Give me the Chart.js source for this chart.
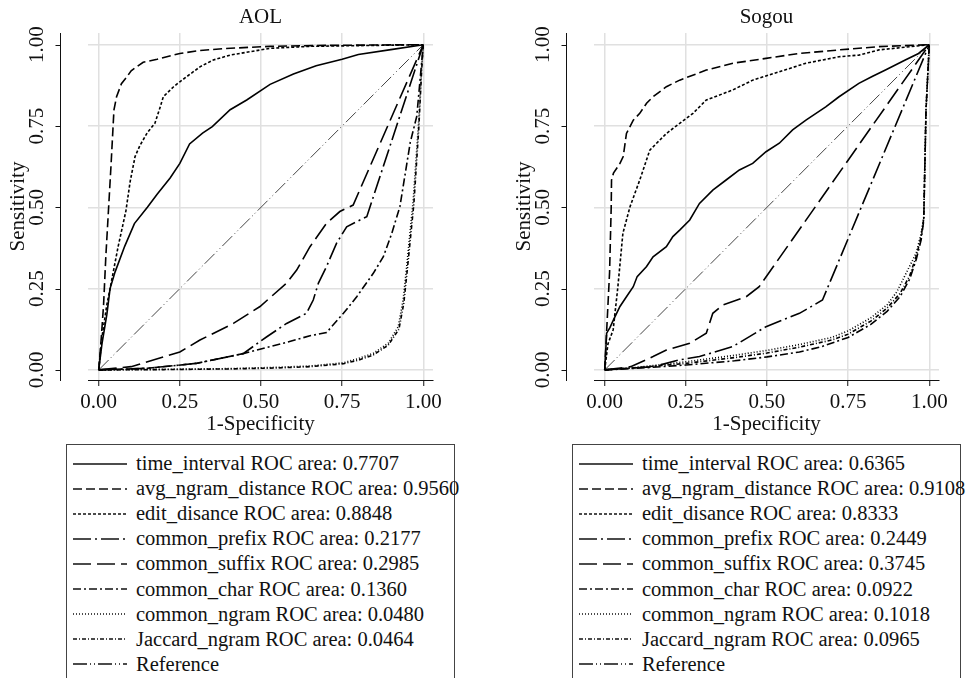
<!DOCTYPE html>
<html>
<head>
<meta charset="utf-8">
<script src="https://cdn.jsdelivr.net/npm/chart.js@4.4.1/dist/chart.umd.min.js"></script>
<style>
  body { margin: 0; width: 968px; height: 678px; overflow: hidden; background: #fff; font-family: 'Liberation Serif', Tinos, 'Times New Roman', serif; }
  canvas { position: absolute; top: 0; }
  .legend { position: absolute; top: 444px; height: 260px; border: 1px solid #444; box-sizing: border-box; padding-top: 6px; font-size: 20.5px; color: #111; }
  .row { height: 25.1px; display: flex; align-items: center; white-space: nowrap; }
  .row svg { margin-left: 6px; margin-right: 9px; flex: none; }
</style>
</head>
<body>
<canvas id="aol" width="484" height="440" style="left:0"></canvas>
<canvas id="sogou" width="462" height="440" style="left:506px"></canvas>
<div id="legAol" class="legend" style="left:66px;width:389px"></div>
<div id="legSogou" class="legend" style="left:572px;width:389px"></div>
<script>
const FONT = "'Liberation Serif', Tinos, 'Times New Roman', serif";
Chart.defaults.font.family = FONT;
Chart.defaults.color = "#111";

const tickVals = [0, 0.25, 0.5, 0.75, 1];
const seriesNames = [
  "time_interval", "avg_ngram_distance", "edit_disance", "common_prefix",
  "common_suffix", "common_char", "common_ngram", "Jaccard_ngram", "Reference",
];
const aolAuc = [0.7707, 0.956, 0.8848, 0.2177, 0.2985, 0.136, 0.048, 0.0464];
const sogouAuc = [0.6365, 0.9108, 0.8333, 0.2449, 0.3745, 0.0922, 0.1018, 0.0965];
// stata-ish line patterns, one per series (same order as seriesNames)
const dashes = [[], [9, 4], [3, 2], [18, 4, 2, 4], [18, 6], [8, 3, 2, 3], [1, 2], [4, 2, 1, 2], [14, 3, 1, 3, 1, 3]];

// AOL curves, [1-specificity, sensitivity]
const aolTime = [[0,0],[0.01,0.08],[0.025,0.17],[0.035,0.25],[0.05,0.3],[0.08,0.38],[0.11,0.45],[0.15,0.5],[0.18,0.54],[0.22,0.59],[0.25,0.635],[0.28,0.695],[0.32,0.728],[0.35,0.748],[0.405,0.8],[0.456,0.83],[0.528,0.878],[0.6,0.91],[0.67,0.935],[0.75,0.955],[0.8,0.97],[0.9,0.985],[1,1]];
const aolAvg = [[0,0],[0.008,0.1],[0.015,0.2],[0.022,0.35],[0.03,0.49],[0.038,0.63],[0.047,0.8],[0.055,0.84],[0.07,0.88],[0.086,0.9],[0.1,0.92],[0.137,0.946],[0.18,0.955],[0.25,0.973],[0.31,0.982],[0.384,0.988],[0.528,0.995],[0.7,0.998],[1,1]];
const aolEdit = [[0,0],[0.01,0.1],[0.025,0.2],[0.035,0.25],[0.06,0.38],[0.084,0.49],[0.097,0.58],[0.112,0.656],[0.127,0.69],[0.15,0.73],[0.173,0.758],[0.19,0.81],[0.199,0.84],[0.23,0.87],[0.25,0.886],[0.312,0.932],[0.353,0.953],[0.405,0.968],[0.528,0.989],[0.65,0.995],[1,1]];
const aolPrefix = [[0,0],[0.15,0.005],[0.3,0.02],[0.445,0.05],[0.518,0.102],[0.579,0.143],[0.64,0.174],[0.661,0.215],[0.677,0.267],[0.702,0.318],[0.733,0.39],[0.764,0.44],[0.805,0.461],[0.826,0.471],[1,1]];
const aolSuffix = [[0,0],[0.1,0.01],[0.2,0.04],[0.25,0.055],[0.312,0.092],[0.415,0.143],[0.497,0.195],[0.579,0.267],[0.61,0.307],[0.651,0.379],[0.702,0.451],[0.743,0.487],[0.784,0.507],[1,1]];
const aolChar = [[0,0],[0.15,0.005],[0.3,0.02],[0.445,0.05],[0.569,0.082],[0.651,0.105],[0.702,0.115],[0.754,0.174],[0.795,0.225],[0.846,0.297],[0.877,0.348],[0.903,0.42],[0.928,0.502],[0.96,0.7],[0.98,0.78],[1,1]];
const aolNgram = [[0,0],[0.2,0.002],[0.4,0.004],[0.55,0.008],[0.65,0.012],[0.754,0.022],[0.8,0.035],[0.846,0.051],[0.892,0.082],[0.923,0.133],[0.938,0.215],[0.949,0.318],[0.959,0.42],[0.969,0.52],[0.985,0.75],[0.995,0.93],[1,1]];
const aolJaccard = [[0,0],[0.2,0.001],[0.4,0.003],[0.55,0.006],[0.65,0.01],[0.754,0.019],[0.8,0.03],[0.846,0.046],[0.892,0.076],[0.925,0.125],[0.94,0.205],[0.951,0.31],[0.961,0.41],[0.971,0.51],[0.986,0.74],[0.995,0.92],[1,1]];

// Sogou curves
const sogouTime = [[0,0],[0.006,0.113],[0.016,0.13],[0.027,0.154],[0.047,0.195],[0.067,0.225],[0.088,0.256],[0.1,0.287],[0.129,0.318],[0.149,0.348],[0.19,0.379],[0.21,0.41],[0.231,0.43],[0.262,0.461],[0.292,0.512],[0.333,0.553],[0.374,0.584],[0.415,0.615],[0.456,0.635],[0.497,0.671],[0.538,0.697],[0.579,0.738],[0.62,0.768],[0.681,0.809],[0.722,0.84],[0.783,0.881],[0.824,0.902],[0.865,0.922],[0.926,0.953],[0.967,0.973],[1,1]];
const sogouAvg = [[0,0],[0.005,0.1],[0.015,0.3],[0.02,0.5],[0.021,0.584],[0.027,0.605],[0.047,0.635],[0.057,0.656],[0.067,0.727],[0.088,0.768],[0.108,0.789],[0.129,0.82],[0.149,0.84],[0.19,0.871],[0.231,0.891],[0.313,0.922],[0.395,0.943],[0.497,0.958],[0.599,0.973],[0.722,0.984],[0.845,0.994],[1,1]];
const sogouEdit = [[0,0],[0.01,0.08],[0.026,0.123],[0.04,0.25],[0.056,0.42],[0.078,0.502],[0.108,0.584],[0.139,0.676],[0.17,0.707],[0.19,0.727],[0.231,0.758],[0.272,0.789],[0.313,0.83],[0.395,0.861],[0.456,0.891],[0.538,0.917],[0.62,0.943],[0.722,0.963],[0.783,0.968],[0.845,0.984],[1,1]];
const sogouPrefix = [[0,0],[0.15,0.01],[0.231,0.031],[0.292,0.041],[0.395,0.072],[0.497,0.133],[0.6,0.174],[0.671,0.215],[1,1]];
const sogouSuffix = [[0,0],[0.08,0.01],[0.149,0.041],[0.19,0.061],[0.262,0.082],[0.313,0.113],[0.333,0.174],[0.364,0.2],[0.436,0.225],[0.476,0.256],[1,1]];
const sogouChar = [[0,0],[0.1,0.005],[0.25,0.015],[0.4,0.028],[0.5,0.04],[0.6,0.055],[0.67,0.072],[0.75,0.1],[0.82,0.14],[0.87,0.18],[0.91,0.225],[0.94,0.28],[0.96,0.34],[0.975,0.4],[0.983,0.46],[0.99,0.8],[1,1]];
const sogouNgram = [[0,0],[0.1,0.008],[0.25,0.025],[0.4,0.045],[0.5,0.06],[0.6,0.078],[0.7,0.1],[0.75,0.12],[0.82,0.16],[0.87,0.2],[0.9,0.24],[0.93,0.3],[0.96,0.36],[0.975,0.42],[0.983,0.47],[0.99,0.8],[1,1]];
const sogouJaccard = [[0,0],[0.1,0.007],[0.25,0.02],[0.4,0.038],[0.5,0.052],[0.6,0.07],[0.7,0.092],[0.75,0.11],[0.82,0.15],[0.87,0.19],[0.91,0.235],[0.94,0.29],[0.96,0.35],[0.975,0.41],[0.983,0.465],[0.99,0.8],[1,1]];

const refLine = [[0,0],[1,1]];

// Stata puts the y axis a bit away from the plot region, draw it by hand
const offsetYAxis = {
  id: "offsetYAxis",
  afterDraw(chart) {
    const { ctx, chartArea, scales } = chart;
    const x = chartArea.left - 28 + 0.5;
    ctx.save();
    ctx.strokeStyle = "#111";
    ctx.lineWidth = 1;
    ctx.beginPath();
    ctx.moveTo(x, chartArea.top);
    ctx.lineTo(x, chartArea.bottom + 1);
    scales.y.ticks.forEach((t) => {
      const y = Math.round(scales.y.getPixelForValue(t.value)) + 0.5;
      ctx.moveTo(x - 5, y);
      ctx.lineTo(x, y);
    });
    ctx.stroke();
    ctx.restore();
  },
};

function makeChart(id, title, curves, padRight) {
  const datasets = curves.map((pts, i) => ({
    label: seriesNames[i],
    data: pts.map((p) => ({ x: p[0], y: p[1] })),
    showLine: true,
    pointRadius: 0,
    borderColor: i === 8 ? "#444" : "#000",
    borderWidth: i === 8 ? 1 : 1.6,
    borderDash: dashes[i],
    tension: 0,
    fill: false,
  }));
  const tickFont = { size: 21, family: FONT };
  return new Chart(document.getElementById(id), {
    type: "scatter",
    data: { datasets },
    options: {
      responsive: false,
      animation: false,
      devicePixelRatio: 1,
      layout: { padding: { top: 0, left: 0, bottom: 0, right: padRight } },
      scales: {
        x: {
          type: "linear",
          min: -0.033,
          max: 1.03,
          afterBuildTicks: (s) => { s.ticks = tickVals.map((v) => ({ value: v })); },
          afterFit: (s) => { s.height = 60; s.paddingLeft = 0; s.paddingRight = 0; },
          grid: { color: "#e0e0e0", lineWidth: 1.5, tickLength: 6, tickColor: "#111", tickWidth: 1 },
          border: { color: "#111", width: 1 },
          ticks: { callback: (v) => v.toFixed(2), font: tickFont, padding: 4, maxRotation: 0, autoSkip: false },
          title: { display: true, text: "1-Specificity", font: tickFont, padding: { top: 3, bottom: 3 } },
        },
        y: {
          type: "linear",
          min: -0.031,
          max: 1.036,
          afterBuildTicks: (s) => { s.ticks = tickVals.map((v) => ({ value: v })); },
          afterFit: (s) => { s.width = 88; s.paddingTop = 0; s.paddingBottom = 0; },
          grid: { color: "#e0e0e0", lineWidth: 1.5, drawTicks: false },
          border: { display: false },
          ticks: { callback: (v) => v.toFixed(2), font: tickFont, minRotation: 90, maxRotation: 90, crossAlign: "center", padding: 32, autoSkip: false },
          title: { display: true, text: "Sensitivity", font: tickFont, padding: { top: 6, bottom: 6 } },
        },
      },
      plugins: {
        legend: { display: false },
        tooltip: { enabled: false },
        title: {
          display: true,
          text: title,
          fullSize: false,
          color: "#111",
          font: { size: 21, weight: "normal", family: FONT },
          padding: { top: 5, bottom: 2.8 },
        },
      },
    },
    plugins: [offsetYAxis],
  });
}

function buildLegend(id, auc) {
  const box = document.getElementById(id);
  seriesNames.forEach((name, i) => {
    const row = document.createElement("div");
    row.className = "row";
    const text = i < auc.length ? `${name} ROC area: ${auc[i].toFixed(4)}` : name;
    const dash = dashes[i].length ? dashes[i].join(" ") : "none";
    row.innerHTML =
      `<svg width="54" height="10"><line x1="0" y1="5" x2="54" y2="5" stroke="#111" stroke-width="1.5" stroke-dasharray="${dash}"/></svg>` +
      `<span>${text}</span>`;
    box.appendChild(row);
  });
}

buildLegend("legAol", aolAuc);
buildLegend("legSogou", sogouAuc);
makeChart("aol", "AOL", [aolTime, aolAvg, aolEdit, aolPrefix, aolSuffix, aolChar, aolNgram, aolJaccard, refLine], 51);
makeChart("sogou", "Sogou", [sogouTime, sogouAvg, sogouEdit, sogouPrefix, sogouSuffix, sogouChar, sogouNgram, sogouJaccard, refLine], 29);
</script>
</body>
</html>
